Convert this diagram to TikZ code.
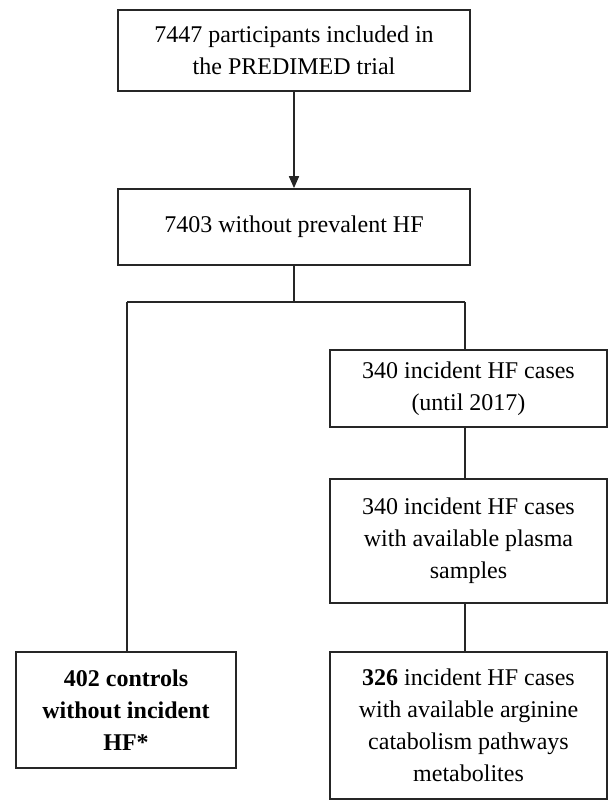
\documentclass[tikz,border=0pt]{standalone}
\usepackage{fontspec}
\setmainfont{LiberationSerif}[Extension=.ttf,UprightFont=*-Regular,BoldFont=*-Bold,ItalicFont=*-Italic,BoldItalicFont=*-BoldItalic]
\usetikzlibrary{arrows.meta}
\begin{document}
\begin{tikzpicture}[x=0.75pt,y=-0.75pt,
  box/.style={draw=black!85,line width=1.3pt,align=center,inner sep=0pt,
    font=\fontsize{18}{24}\selectfont},
  conn/.style={draw=black!85,line width=1.3pt}]
\useasboundingbox (0,0) rectangle (608,801);
\node[box,minimum width=264pt,minimum height=60.75pt] (b1) at (294,50.5)
  {7447 participants included in\\the PREDIMED trial};
\node[box,minimum width=264pt,minimum height=57pt] (b2) at (294,227)
  {7403 without prevalent HF};
\node[box,minimum width=207.75pt,minimum height=57.75pt] (b3) at (468.5,388.5)
  {340 incident HF cases\\(until 2017)};
\node[box,minimum width=207.75pt,minimum height=93pt] (b4) at (468.5,541)
  {340 incident HF cases\\with available plasma\\samples};
\node[box,minimum width=165pt,minimum height=87pt,font=\fontsize{18}{24}\selectfont\bfseries] (b5) at (126,710)
  {402 controls\\without incident\\HF*};
\node[box,minimum width=207.75pt,minimum height=110.25pt] (b6) at (468.5,725.5)
  {\textbf{326} incident HF cases\\with available arginine\\catabolism pathways\\metabolites};
\coordinate (j) at (294,302);
\coordinate (jl) at (127,302);
\coordinate (jr) at (465,302);
\draw[conn,-{Triangle[length=9pt,width=7.5pt]}] (b1.south) -- (b2.north);
\draw[conn] (b2.south) -- (j);
\draw[conn] (jl) -- (jr);
\draw[conn] (jl) -- (jl |- b5.north);
\draw[conn] (jr) -- (jr |- b3.north);
\draw[conn] (jr |- b3.south) -- (jr |- b4.north);
\draw[conn] (jr |- b4.south) -- (jr |- b6.north);
\end{tikzpicture}
\end{document}
